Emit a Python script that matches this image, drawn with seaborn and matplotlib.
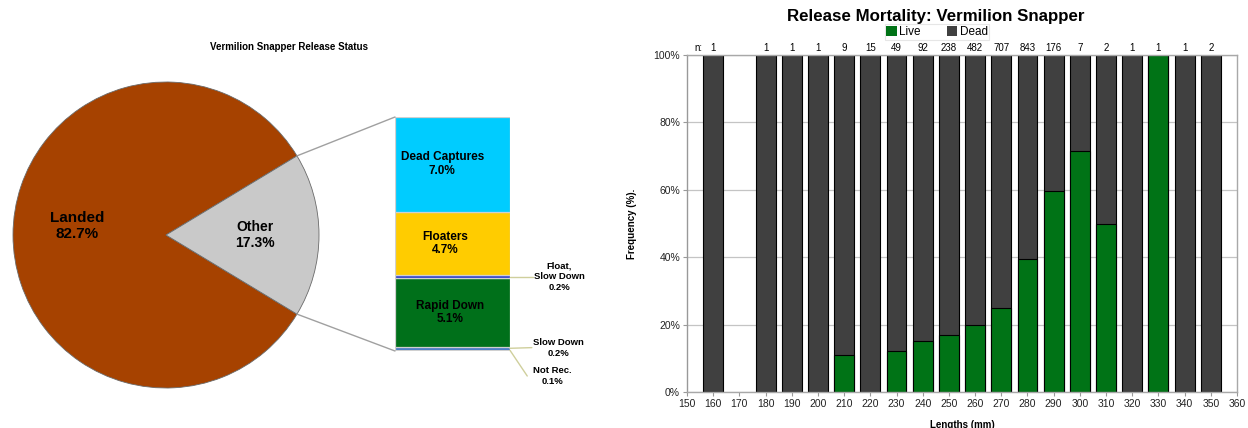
import numpy as np
import matplotlib
matplotlib.use("Agg")
import matplotlib.pyplot as plt
from matplotlib.patches import ConnectionPatch, Patch
import seaborn as sns

# ---- data -------------------------------------------------------------
status_labels = ["Landed", "Other"]
status_pct = [82.7, 17.3]

other_labels = ["Not Rec.", "Slow Down", "Rapid Down", "Float,\nSlow Down", "Floaters", "Dead Captures"]
other_pct = [0.1, 0.2, 5.1, 0.2, 4.7, 7.0]

lengths = [160, 180, 190, 200, 210, 220, 230, 240, 250, 260,
           270, 280, 290, 300, 310, 320, 330, 340, 350]
n_fish = [1, 1, 1, 1, 9, 15, 49, 92, 238, 482, 707, 843, 176, 7, 2, 1, 1, 1, 2]
live_pct = [0, 0, 0, 0, 11.1, 0, 12.2, 15.2, 16.8, 19.9,
            24.9, 39.4, 59.7, 71.4, 50.0, 0, 100.0, 0, 0]
dead_pct = [100.0] * len(lengths)

# ---- style ------------------------------------------------------------
sns.set_theme(style="white")
plt.rcParams["font.family"] = ["Liberation Sans", "DejaVu Sans"]
plt.rcParams["text.color"] = "black"
plt.rcParams["axes.labelcolor"] = "black"

W, H = 1248, 428
fig = plt.figure(figsize=(W / 100, H / 100), dpi=100)


def px_axes(x0, y0, x1, y1):
    """Axes from pixel box (left, top, right, bottom)."""
    return fig.add_axes([x0 / W, 1 - y1 / H, (x1 - x0) / W, (y1 - y0) / H])


# ---- left: pie of release status -------------------------------------
pie_colors = ["#A64200", "#C9C9C9"]
ax_pie = px_axes(13, 82, 319, 388)
start = status_pct[1] / 2 * 3.6
wedges, texts = ax_pie.pie(
    status_pct, colors=pie_colors, startangle=start, counterclock=True,
    labels=[f"{l}\n{p:.1f}%" for l, p in zip(status_labels, status_pct)],
    labeldistance=0.58,
    wedgeprops=dict(edgecolor="#6a6a6a", linewidth=0.6),
)
for t, fs in zip(texts, [11, 10]):
    t.set_ha("center")
    t.set_va("center")
    t.set_fontweight("bold")
    t.set_fontsize(fs)
    t.set_linespacing(1.2)
    t.set_color("black")
texts[0].set_y(texts[0].get_position()[1] + 0.06)
ax_pie.set_xlim(-1, 1)
ax_pie.set_ylim(-1, 1)
ax_pie.set_aspect("equal")
ax_pie.axis("off")

fig.text(289 / W, 1 - 47 / H, "Vermilion Snapper Release Status",
         ha="center", va="center", fontsize=7, fontweight="bold")

# ---- left: stacked breakdown of "Other" ------------------------------
seg_colors = ["#3a5a8c", "#3b74c4", "#00701a", "#2f3fcc", "#ffcc00", "#00ccff"]
ax_bar = px_axes(395, 117, 510, 351)
bottom = 0.0
seg_mid = []
for val, col in zip(other_pct, seg_colors):
    ax_bar.bar(0.5, val, width=1.0, bottom=bottom, color=col,
               edgecolor="#d0d0d0", linewidth=0.9)
    seg_mid.append(bottom + val / 2)
    bottom += val
ax_bar.set_xlim(0, 1)
ax_bar.set_ylim(0, sum(other_pct))
ax_bar.axis("off")

# labels inside the larger segments
for i, xpos in zip([2, 4, 5], [0.48, 0.44, 0.41]):
    ax_bar.text(xpos, seg_mid[i], f"{other_labels[i]}\n{other_pct[i]:.1f}%",
                ha="center", va="center", fontsize=8.5, fontweight="bold",
                linespacing=1.2, color="black")

# callouts for the thin segments
lead_col = "#cfcf9c"
small_fs = 6.8
ax_bar.plot([1.0, 1.2], [seg_mid[3], seg_mid[3]], color=lead_col, lw=1, clip_on=False)
ax_bar.text(1.43, seg_mid[3], f"{other_labels[3]}\n{other_pct[3]:.1f}%",
            ha="center", va="center", fontsize=small_fs, fontweight="bold",
            linespacing=1.3)
ax_bar.plot([1.0, 1.19], [seg_mid[1], seg_mid[1] + 0.05], color=lead_col, lw=1, clip_on=False)
ax_bar.text(1.42, seg_mid[1], f"{other_labels[1]}\n{other_pct[1]:.1f}%",
            ha="center", va="center", fontsize=small_fs, fontweight="bold",
            linespacing=1.3)
ax_bar.plot([1.0, 1.15], [seg_mid[0], -1.85], color=lead_col, lw=1, clip_on=False)
ax_bar.text(1.37, -1.85, f"{other_labels[0]}\n{other_pct[0]:.1f}%",
            ha="center", va="center", fontsize=small_fs, fontweight="bold",
            linespacing=1.3)

# connectors from the "Other" wedge edges to the breakdown column
half = np.deg2rad(status_pct[1] / 2 * 3.6)
for sgn, ytop in [(1, 1), (-1, 0)]:
    con = ConnectionPatch(xyA=(np.cos(half), sgn * np.sin(half)), coordsA=ax_pie.transData,
                          xyB=(0, ytop), coordsB=ax_bar.transAxes,
                          color="#a0a0a0", lw=1)
    fig.add_artist(con)

# ---- right: release mortality by length -------------------------------
live_col = "#007316"
dead_col = "#404040"
ax = px_axes(687, 55, 1237, 392)

sns.barplot(x=lengths, y=dead_pct, native_scale=True, width=0.76, color=dead_col,
            saturation=1, edgecolor="black", linewidth=0.8, ax=ax)
sns.barplot(x=lengths, y=live_pct, native_scale=True, width=0.76, color=live_col,
            saturation=1, edgecolor="black", linewidth=0.8, ax=ax)

ax.set_xlim(150, 360)
ax.set_ylim(0, 100)
ax.set_xticks(np.arange(150, 361, 10))
ax.set_xticklabels([str(v) for v in range(150, 361, 10)], fontsize=7.5, color="#222222")
ax.set_yticks(np.arange(0, 101, 20))
ax.set_yticklabels([f"{v}%" for v in range(0, 101, 20)], fontsize=7.5, color="#222222")
ax.yaxis.grid(True, color="#c4c4c4", lw=0.9)
ax.set_axisbelow(True)
ax.tick_params(axis="both", direction="out", length=3, width=0.8, color="#999999", pad=2,
               bottom=True, left=True)
for side in ["left", "bottom", "right", "top"]:
    ax.spines[side].set_visible(True)
    ax.spines[side].set_color("#a8a8a8")
    ax.spines[side].set_linewidth(1.0)
ax.spines["left"].set_color("#999999")

ax.set_xlabel("Lengths (mm)", fontsize=7, fontweight="bold")
ax.set_ylabel("Frequency (%).", fontsize=7, fontweight="bold")
ax.xaxis.set_label_coords(0.5, -0.083)
ax.yaxis.set_label_coords(-0.091, 0.5)

# sample sizes over each bar
ax.text(154.2, 100.6, "n:", ha="center", va="bottom", fontsize=7)
for x, n in zip(lengths, n_fish):
    ax.text(x, 100.6, str(n), ha="center", va="bottom", fontsize=7)

fig.text(936 / W, 1 - 17 / H, "Release Mortality: Vermilion Snapper",
         ha="center", va="center", fontsize=12.2, fontweight="bold")
handles = [Patch(facecolor=live_col, edgecolor="none"), Patch(facecolor=dead_col, edgecolor="none")]
leg = fig.legend(handles, ["Live", "Dead"], loc="center", bbox_to_anchor=(937 / W, 1 - 32 / H),
                 ncol=2, fontsize=8.5, frameon=True, fancybox=False, handlelength=0.9,
                 handleheight=0.9, handletextpad=0.2, columnspacing=2.2,
                 borderpad=0.15, borderaxespad=0)
leg.get_frame().set_edgecolor("#e0e0e0")
leg.get_frame().set_linewidth(0.8)

fig.savefig("out.png", dpi=100)
